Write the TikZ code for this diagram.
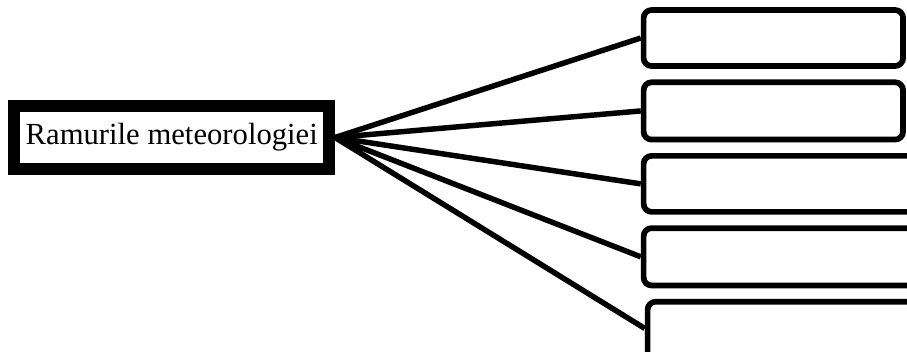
\documentclass[tikz,border=0pt]{standalone}
\usepackage{fontspec}
\setmainfont{Liberation Serif}
\usetikzlibrary{positioning}

\begin{document}
\begin{tikzpicture}[
		x=0.75pt, y=-0.75pt,
		node distance=7.9pt,
		mainbox/.style={draw, line width=9pt, inner sep=2pt, minimum width=235.9pt, minimum height=47.25pt, font=\fontsize{23}{27}\selectfont},
		branch/.style={draw, line width=4.3pt, rounded corners=6pt, minimum width=194.6pt, minimum height=42pt},
		widebranch/.style={branch, minimum width=215pt},
		link/.style={line width=4.1pt}
		]
		
		% frame of the page
		\useasboundingbox (0,0) rectangle (907,351);
		
		% ==========================================
		% ROOT
		% ==========================================
		\node[mainbox] (ramuri) at (171.75,137.5) {Ramurile meteorologiei};
		
		% ==========================================
		% BRANCHES (empty boxes)
		% ==========================================
		\node[branch, anchor=west] (r1) at (640.75,38) {};
		\node[branch, below=of r1.south west, anchor=north west, minimum height=43pt] (r2) {};
		\node[widebranch, below=of r2.south west, anchor=north west] (r3) {};
		\node[widebranch, below=of r3.south west, anchor=north west, minimum height=43pt] (r4) {};
		\node[widebranch, below=of r4.south west, anchor=north west, xshift=3pt, minimum height=50pt] (r5) {};
		
		% links from the root
		\draw[link] (ramuri.east) -- (r1.west);
		\draw[link] (ramuri.east) -- (r2.west);
		\draw[link] (ramuri.east) -- (r3.west);
		\draw[link] (ramuri.east) -- (r4.west);
		\draw[link] (ramuri.east) -- ([yshift=5pt]r5.west);
		
	\end{tikzpicture}
\end{document}
